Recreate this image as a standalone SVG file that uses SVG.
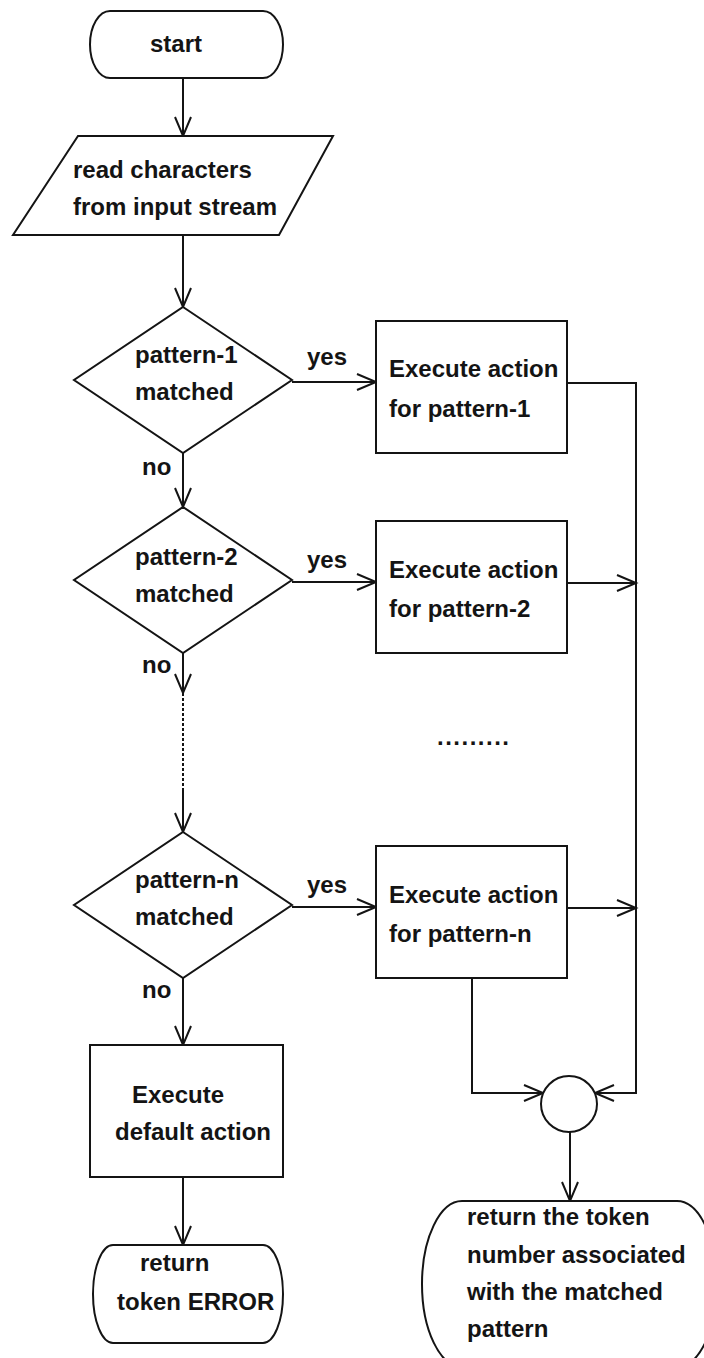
<svg xmlns="http://www.w3.org/2000/svg" width="704" height="1358" viewBox="0 0 704 1358">
  <style>
    .shape { fill: #ffffff; stroke: #141414; stroke-width: 2; }
    .line { fill: none; stroke: #141414; stroke-width: 2; }
    .dash { fill: none; stroke: #141414; stroke-width: 2; stroke-dasharray: 3 2; }
    text { font-family: "Liberation Sans", Arial, sans-serif; font-weight: bold; font-size: 24px; fill: #141414; }
  </style>
  <defs>
    <marker id="arrow" markerUnits="userSpaceOnUse" markerWidth="24" markerHeight="22" refX="21" refY="11" orient="auto">
      <path d="M2,3 L21,11 L2,19" fill="none" stroke="#141414" stroke-width="2"/>
    </marker>
  </defs>
  <rect width="704" height="1358" fill="#ffffff"/>

  <!-- connectors -->
  <g id="connectors">
    <line class="line" x1="183" y1="78" x2="183" y2="136" marker-end="url(#arrow)"/>
    <line class="line" x1="183" y1="235" x2="183" y2="307" marker-end="url(#arrow)"/>
    <!-- pattern-1 -->
    <line class="line" x1="292" y1="382" x2="376" y2="382" marker-end="url(#arrow)"/>
    <line class="line" x1="183" y1="453" x2="183" y2="507" marker-end="url(#arrow)"/>
    <polyline class="line" points="567,383 636,383 636,1093 595,1093" marker-end="url(#arrow)"/>
    <!-- pattern-2 -->
    <line class="line" x1="292" y1="582" x2="376" y2="582" marker-end="url(#arrow)"/>
    <line class="line" x1="567" y1="583" x2="636" y2="583" marker-end="url(#arrow)"/>
    <line class="line" x1="183" y1="653" x2="183" y2="693" marker-end="url(#arrow)"/>
    <line class="dash" x1="183" y1="693" x2="183" y2="790"/>
    <line class="line" x1="183" y1="789" x2="183" y2="832" marker-end="url(#arrow)"/>
    <!-- pattern-n -->
    <line class="line" x1="292" y1="907" x2="376" y2="907" marker-end="url(#arrow)"/>
    <line class="line" x1="567" y1="908" x2="636" y2="908" marker-end="url(#arrow)"/>
    <polyline class="line" points="472,978 472,1093 543,1093" marker-end="url(#arrow)"/>
    <line class="line" x1="183" y1="978" x2="183" y2="1045" marker-end="url(#arrow)"/>
    <!-- endings -->
    <line class="line" x1="183" y1="1177" x2="183" y2="1245" marker-end="url(#arrow)"/>
    <line class="line" x1="570" y1="1132" x2="570" y2="1201" marker-end="url(#arrow)"/>
    <!-- branch labels -->
    <text x="307" y="365">yes</text>
    <text x="307" y="568">yes</text>
    <text x="307" y="893">yes</text>
    <text x="142" y="475">no</text>
    <text x="142" y="673">no</text>
    <text x="142" y="998">no</text>
  </g>

  <g id="start">
    <path class="shape" d="M110,11 L263,11 A20,33.5 0 0 1 263,78 L110,78 A20,33.5 0 0 1 110,11 Z"/>
    <text x="150" y="52">start</text>
  </g>

  <g id="read-input">
    <polygon class="shape" points="78,136 333,136 279,235 13,235"/>
    <text x="73" y="178">read characters</text>
    <text x="73" y="215">from input stream</text>
  </g>

  <g id="match-1">
    <polygon class="shape" points="183,307 292,380 183,453 74,380"/>
    <text x="135" y="363">pattern-1</text>
    <text x="135" y="400">matched</text>
  </g>
  <g id="action-1">
    <rect class="shape" x="376" y="321" width="191" height="132"/>
    <text x="389" y="377">Execute action</text>
    <text x="389" y="417">for pattern-1</text>
  </g>

  <g id="match-2">
    <polygon class="shape" points="183,507 292,580 183,653 74,580"/>
    <text x="135" y="565">pattern-2</text>
    <text x="135" y="602">matched</text>
  </g>
  <g id="action-2">
    <rect class="shape" x="376" y="521" width="191" height="132"/>
    <text x="389" y="578">Execute action</text>
    <text x="389" y="617">for pattern-2</text>
  </g>

  <g id="ellipsis">
    <text x="437" y="745" letter-spacing="1.5">.........</text>
  </g>

  <g id="match-n">
    <polygon class="shape" points="183,832 292,905 183,978 74,905"/>
    <text x="135" y="888">pattern-n</text>
    <text x="135" y="925">matched</text>
  </g>
  <g id="action-n">
    <rect class="shape" x="376" y="846" width="191" height="132"/>
    <text x="389" y="903">Execute action</text>
    <text x="389" y="942">for pattern-n</text>
  </g>

  <g id="default-action">
    <rect class="shape" x="90" y="1045" width="193" height="132"/>
    <text x="132" y="1103">Execute</text>
    <text x="115" y="1140">default action</text>
  </g>

  <g id="return-error">
    <path class="shape" d="M113,1245 L263,1245 A20,49 0 0 1 263,1343 L113,1343 A20,49 0 0 1 113,1245 Z"/>
    <text x="140" y="1271">return</text>
    <text x="117" y="1310">token ERROR</text>
  </g>

  <g id="join">
    <circle class="shape" cx="569" cy="1104" r="28"/>
  </g>

  <g id="return-token">
    <path class="shape" d="M462,1201 L677,1201 A40,83 0 0 1 677,1367 L462,1367 A40,83 0 0 1 462,1201 Z"/>
    <text x="467" y="1225">return the token</text>
    <text x="467" y="1263">number associated</text>
    <text x="467" y="1300">with the matched</text>
    <text x="467" y="1337">pattern</text>
  </g>
</svg>
